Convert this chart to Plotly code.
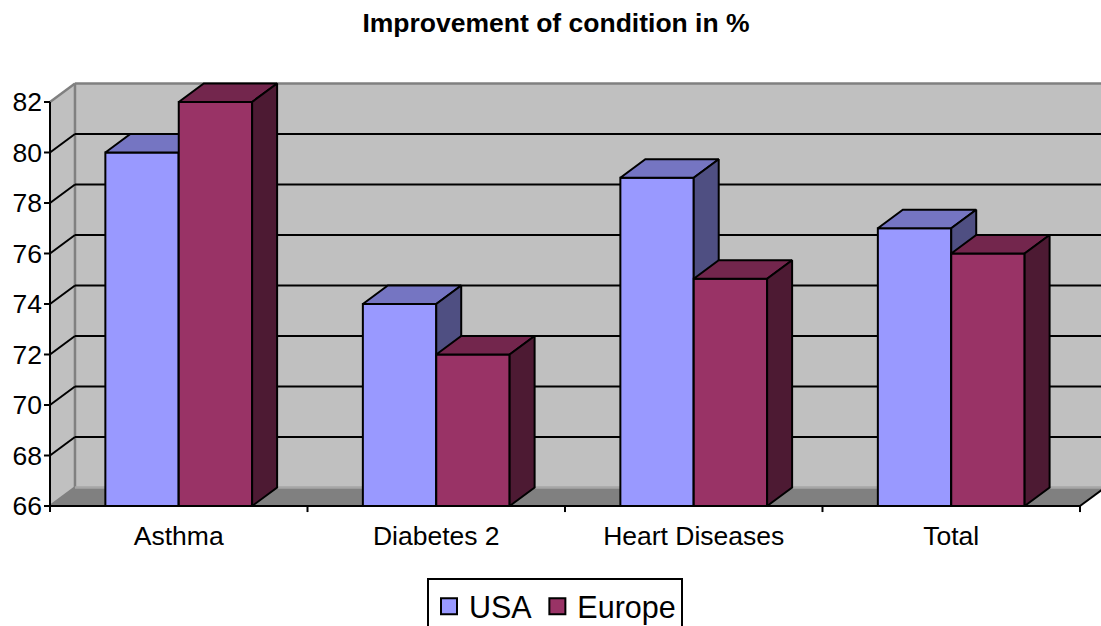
import plotly.graph_objects as go

# ---- data ----
categories = ["Asthma", "Diabetes 2", "Heart Diseases", "Total"]
usa = [80, 74, 79, 77]
europe = [82, 72, 75, 76]
y_ticks = [66, 68, 70, 72, 74, 76, 78, 80, 82]
series_names = ["USA", "Europe"]

# ---- geometry (axis units) ----
Y_MIN, Y_MAX = 66, 82
DEPTH_X = 0.097        # oblique depth shift along x
DEPTH_Y = 0.73         # oblique depth shift along y
BAR_W = 0.285
TICK_X = 0.027
TICK_Y = 0.24
X_LO, X_HI = -0.5, len(categories) - 0.5
X_RANGE = [X_LO - 0.0233, X_HI + 0.0816]
Y_RANGE = [Y_MIN - 0.317, Y_MAX + 0.871]

FONT = "Liberation Sans, Arial, sans-serif"
WALL = "#c0c0c0"
FLOOR = "#808080"
EDGE = "#808080"
colors = {
    "USA": ("#9999ff", "#7575c2", "#4f4f82"),
    "Europe": ("#993366", "#73264d", "#4d1a33"),
}


def poly(xs, ys, fill, ax="", line_color="black", width=0):
    return go.Scatter(
        x=list(xs) + [xs[0]], y=list(ys) + [ys[0]],
        mode="lines", fill="toself", fillcolor=fill,
        line=dict(color=line_color if width else "rgba(0,0,0,0)", width=width),
        hoverinfo="skip", showlegend=False,
        xaxis="x" + ax, yaxis="y" + ax,
    )


def segments(pairs, color, width):
    xs, ys = [], []
    for (x0, y0), (x1, y1) in pairs:
        xs += [x0, x1, None]
        ys += [y0, y1, None]
    return go.Scatter(x=xs, y=ys, mode="lines",
                      line=dict(color=color, width=width),
                      hoverinfo="skip", showlegend=False)


fig = go.Figure()

# walls and floor
bx0, bx1 = X_LO + DEPTH_X, X_HI + DEPTH_X
fig.add_trace(poly([bx0, bx1, bx1, bx0],
                   [Y_MIN + DEPTH_Y, Y_MIN + DEPTH_Y, Y_MAX + DEPTH_Y, Y_MAX + DEPTH_Y], WALL))
fig.add_trace(poly([X_LO, X_LO, bx0, bx0],
                   [Y_MIN, Y_MAX, Y_MAX + DEPTH_Y, Y_MIN + DEPTH_Y], WALL))
fig.add_trace(poly([X_LO, X_HI, bx1, bx0],
                   [Y_MIN, Y_MIN, Y_MIN + DEPTH_Y, Y_MIN + DEPTH_Y], FLOOR))

# wall edges
fig.add_trace(segments([
    ((bx0, Y_MAX + DEPTH_Y), (bx1 + 0.2, Y_MAX + DEPTH_Y)),
    ((X_LO, Y_MAX), (bx0, Y_MAX + DEPTH_Y)),
    ((bx0, Y_MIN + DEPTH_Y), (bx0, Y_MAX + DEPTH_Y)),
    ((X_LO, Y_MIN), (bx0, Y_MIN + DEPTH_Y)),
], EDGE, 2.5))
fig.add_trace(segments([
    ((bx0, Y_MIN + DEPTH_Y), (bx1 + 0.2, Y_MIN + DEPTH_Y)),
], "#a6a6a6", 2.5))

# gridlines on the side and back walls
grid = []
for v in y_ticks[1:-1]:
    grid.append(((X_LO, v), (bx0, v + DEPTH_Y)))
    grid.append(((bx0, v + DEPTH_Y), (bx1 + 0.2, v + DEPTH_Y)))
fig.add_trace(segments(grid, "black", 2))

# front axis lines and tick marks
axis = [((X_LO, Y_MIN), (X_LO, Y_MAX)), ((X_LO, Y_MIN), (X_HI, Y_MIN)),
        ((X_HI, Y_MIN), (bx1, Y_MIN + DEPTH_Y))]
for v in y_ticks:
    axis.append(((X_LO - TICK_X, v), (X_LO, v)))
for i in range(len(categories) + 1):
    b = X_LO + i
    axis.append(((b, Y_MIN), (b, Y_MIN - TICK_Y)))
fig.add_trace(segments(axis, "black", 2))

# 3-D bars: front face as a bar, top and side faces as polygons
for k, (name, vals) in enumerate(zip(series_names, [usa, europe])):
    ax = str(k + 2)
    front, top, side = colors[name]
    offset = -BAR_W if k == 0 else 0.0
    fig.add_trace(go.Bar(
        x=list(range(len(categories))), y=[v - Y_MIN for v in vals], base=Y_MIN,
        width=BAR_W, offset=offset, name=name,
        marker=dict(color=front, line=dict(color="black", width=2)),
        customdata=vals, hovertemplate="%{customdata}<extra>" + name + "</extra>",
        showlegend=False, xaxis="x" + ax, yaxis="y" + ax,
    ))
    for i, v in enumerate(vals):
        x0 = i + offset
        x1 = x0 + BAR_W
        fig.add_trace(poly([x0, x1, x1 + DEPTH_X, x0 + DEPTH_X],
                           [v, v, v + DEPTH_Y, v + DEPTH_Y], top, ax, "black", 2))
        fig.add_trace(poly([x1, x1, x1 + DEPTH_X, x1 + DEPTH_X],
                           [Y_MIN, v, v + DEPTH_Y, Y_MIN + DEPTH_Y], side, ax, "black", 2))

# legend entries
for name in series_names:
    fig.add_trace(go.Scatter(
        x=[None], y=[None], mode="markers", name=name,
        marker=dict(symbol="square", size=16, color=colors[name][0],
                    line=dict(color="black", width=2)),
    ))

common = dict(range=X_RANGE, showgrid=False, zeroline=False, fixedrange=True)
commony = dict(range=Y_RANGE, showgrid=False, zeroline=False, fixedrange=True)

fig.update_layout(
    width=1101, height=626,
    margin=dict(l=44, r=0, t=80, b=112, pad=0),
    paper_bgcolor="white", plot_bgcolor="white",
    font=dict(family=FONT, color="black", size=26),
    title=dict(text="<b>Improvement of condition in %</b>",
               font=dict(size=26.5, family=FONT, color="black"),
               x=0.505, xanchor="center", xref="container",
               y=1 - 23 / 626, yanchor="middle", yref="container"),
    xaxis=dict(tickmode="array", tickvals=list(range(len(categories))),
               ticktext=categories, ticks="", showline=False,
               ticklabelstandoff=3, tickfont=dict(size=26.5), **common),
    yaxis=dict(tickmode="array", tickvals=y_ticks, ticks="", showline=False,
               ticklabelstandoff=1, tickfont=dict(size=26.5), **commony),
    xaxis2=dict(overlaying="x", anchor="y2", visible=False, **common),
    yaxis2=dict(overlaying="y", anchor="x2", visible=False, **commony),
    xaxis3=dict(overlaying="x", anchor="y3", visible=False, **common),
    yaxis3=dict(overlaying="y", anchor="x3", visible=False, **commony),
    showlegend=True,
    legend=dict(orientation="h", xref="container", yref="container",
                x=555 / 1101, xanchor="center", y=1 - 578 / 626, yanchor="top",
                bordercolor="black", borderwidth=2, bgcolor="white",
                font=dict(size=30.5, family=FONT, color="black")),
)

fig.write_html("out.html")
